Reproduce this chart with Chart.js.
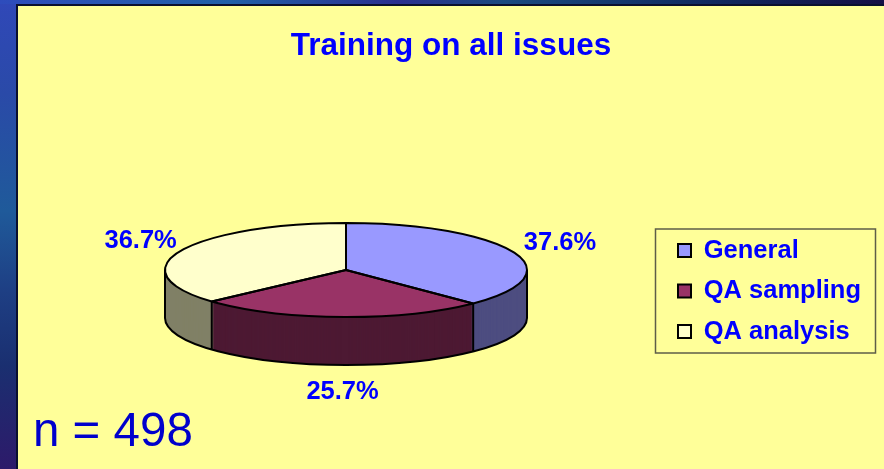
<!DOCTYPE html>
<html>
<head>
<meta charset="utf-8">
<title>Training on all issues</title>
<script src="https://cdn.jsdelivr.net/npm/chart.js@4"></script>
<style>
  html, body { margin: 0; padding: 0; }
  body {
    width: 884px; height: 469px; position: relative; overflow: hidden;
    background:
      linear-gradient(to right, #2e4cbc 0%, #2060a8 26%, #2a2f90 45%, #1a4a80 57%, #102a60 80%, #150f45 100%) 0 0 / 100% 4px no-repeat,
      linear-gradient(to bottom, #3048b8 0%, #2a4aa8 20%, #1f5a9a 45%, #1e3f84 62%, #1a2f70 78%, #2d1a6a 100%);
  }
  #panel {
    position: absolute; left: 16px; top: 4px; right: 0; bottom: 0;
    background: #ffff99; border-left: 2px solid #0a1030; border-top: 2px solid #0a1030;
  }
  #chart { position: absolute; left: 0; top: 0; }
  #count {
    position: absolute; left: 15px; top: 394px;
    font: 47.5px "Liberation Sans", Arial, sans-serif; line-height: 60px; color: #0000cc;
  }
</style>
</head>
<body>
<div id="panel">
  <canvas id="chart" width="866" height="463"></canvas>
  <div id="count">n = 498</div>
</div>
<script>
const categories = ["General", "QA sampling", "QA analysis"];
const shareValues = [37.6, 25.7, 36.7];
const faceColors = ["#9999ff", "#993366", "#ffffcc"];
const sideColors = ["#4d4d80", "#4d1933", "#808066"];

// pie is flattened into an ellipse and given some height, canvas coords
const pieX = 328, pieY = 264, radiusX = 181, radiusY = 47, pieDepth = 48;
const labelFont = 'bold 25.5px "Liberation Sans", Arial, sans-serif';

function sectorPath(ctx, arc, shift) {
    ctx.beginPath();
    ctx.moveTo(pieX, pieY + shift);
    ctx.ellipse(pieX, pieY + shift, radiusX, radiusY, 0, arc.startAngle, arc.endAngle);
    ctx.closePath();
}

const flatPie = {
    id: "flatPie",
    afterLayout(chart) {
        // legend sits in its own box, not against the canvas edge
        const legend = chart.legend;
        legend.left = 645;
        legend.right = 850;
        legend.top = 183;
        legend.bottom = 387;
    },
    beforeDraw(chart) {
        const ctx = chart.ctx;
        ctx.save();
        ctx.strokeStyle = "#5e5e48";
        ctx.lineWidth = 1.5;
        ctx.strokeRect(637.5, 223, 220, 124);
        ctx.restore();
    },
    beforeDatasetsDraw(chart) {
        const ctx = chart.ctx;
        const arcs = chart.getDatasetMeta(0).data;

        // side wall, stacked from the bottom up
        ctx.save();
        for (let d = pieDepth; d >= 1; d--) {
            arcs.forEach((arc, i) => {
                sectorPath(ctx, arc, d);
                ctx.fillStyle = sideColors[i];
                ctx.fill();
            });
        }
        ctx.strokeStyle = "#000";
        ctx.lineWidth = 2;
        ctx.beginPath();
        ctx.ellipse(pieX, pieY + pieDepth, radiusX, radiusY, 0, 0, Math.PI);
        ctx.stroke();

        const edges = [0, Math.PI];
        arcs.forEach(arc => {
            if (Math.sin(arc.startAngle) > 0) edges.push(arc.startAngle);
        });
        edges.forEach(a => {
            const x = pieX + radiusX * Math.cos(a);
            const y = pieY + radiusY * Math.sin(a);
            ctx.beginPath();
            ctx.moveTo(x, y);
            ctx.lineTo(x, y + pieDepth);
            ctx.stroke();
        });
        ctx.restore();

        // top face: let the library draw its arcs through a squashed transform
        const first = arcs[0];
        ctx.save();
        ctx.translate(pieX, pieY);
        ctx.scale(radiusX / first.outerRadius, radiusY / first.outerRadius);
        ctx.translate(-first.x, -first.y);
    },
    afterDatasetsDraw(chart) {
        const ctx = chart.ctx;
        ctx.restore();

        const arcs = chart.getDatasetMeta(0).data;
        ctx.save();
        ctx.strokeStyle = "#000";
        ctx.lineWidth = 2;
        ctx.lineJoin = "round";
        arcs.forEach(arc => {
            sectorPath(ctx, arc, 0);
            ctx.stroke();
        });

        ctx.font = labelFont;
        ctx.fillStyle = "#0000ff";
        ctx.textAlign = "center";
        ctx.textBaseline = "middle";
        arcs.forEach((arc, i) => {
            const mid = (arc.startAngle + arc.endAngle) / 2;
            const c = Math.cos(mid), s = Math.sin(mid);
            const x = pieX + 3 + (radiusX + 47) * c;
            const y = pieY + (radiusY + 25) * s + (s > 0 ? pieDepth + 2 : 0);
            ctx.fillText(shareValues[i].toFixed(1) + "%", x, y);
        });
        ctx.restore();
    }
};

new Chart(document.getElementById("chart"), {
    type: "pie",
    data: {
        labels: categories,
        datasets: [{
            data: shareValues,
            backgroundColor: faceColors,
            borderWidth: 0,
            clip: false
        }]
    },
    options: {
        responsive: false,
        animation: false,
        events: [],
        plugins: {
            title: {
                display: true,
                text: "Training on all issues",
                color: "#0000ff",
                font: { family: '"Liberation Sans", Arial, sans-serif', size: 31.5, weight: "bold" },
                padding: { top: 21, bottom: 10 }
            },
            legend: {
                position: "right",
                labels: {
                    color: "#0000ff",
                    font: { family: '"Liberation Sans", Arial, sans-serif', size: 25.5, weight: "bold" },
                    boxWidth: 13,
                    boxHeight: 13,
                    padding: 15,
                    generateLabels(chart) {
                        return Chart.overrides.pie.plugins.legend.labels.generateLabels(chart).map(item => {
                            item.strokeStyle = "#000";
                            item.lineWidth = 2;
                            return item;
                        });
                    }
                }
            },
            tooltip: { enabled: false }
        }
    },
    plugins: [flatPie]
});
</script>
</body>
</html>
